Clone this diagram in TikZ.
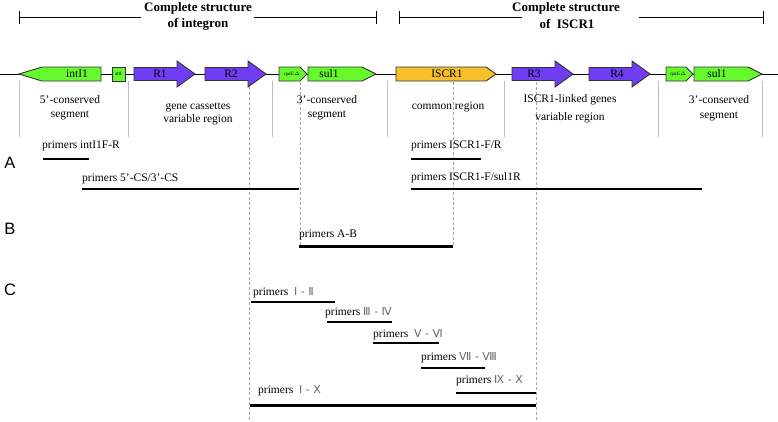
\documentclass[tikz,border=0pt]{standalone}
\usepackage{fontspec}
\setmainfont{Liberation Serif}
\newfontfamily\labfont{Liberation Sans}
\newfontfamily\romfont{DejaVu Sans}
\definecolor{genegreen}{RGB}{102,250,45}
\definecolor{genepurple}{RGB}{112,62,242}
\definecolor{geneorange}{RGB}{245,192,42}
\definecolor{sepgray}{RGB}{190,190,190}
\newcommand{\rn}[1]{{\romfont\color{black!60}\fontsize{11}{12}\selectfont #1}}
\begin{document}
\begin{tikzpicture}[x=1pt,y=-1pt,
  gene/.style={draw=black!80, line width=0.9pt, line join=miter},
  grn/.style={gene, fill=genegreen},
  prp/.style={gene, fill=genepurple},
  org/.style={gene, fill=geneorange},
  glab/.style={font=\fontsize{11.5}{12}\selectfont, inner sep=0pt},
  tiny/.style={font=\fontsize{5}{5}\selectfont, inner sep=0pt},
  sep/.style={draw=sepgray, line width=0.7pt},
  dsep/.style={draw=black!35, dash pattern=on 3pt off 2pt, line width=0.6pt},
  bracket/.style={line width=1pt},
  title/.style={font=\bfseries\fontsize{13}{14}\selectfont, inner sep=0pt},
  rlab/.style={font=\fontsize{11.5}{12}\selectfont, inner sep=0pt},
  ptext/.style={anchor=west, font=\fontsize{11.5}{12}\selectfont, inner sep=0pt},
  thinp/.style={line width=1.6pt},
  midp/.style={line width=2pt},
  thickp/.style={line width=3pt},
  letter/.style={font=\labfont\fontsize{16.5}{17}\selectfont, inner sep=0pt}
]
\useasboundingbox (0,0) rectangle (778,421);

% ---------- titles and brackets ----------
\node[title] (t1a) at (198,8) {Complete structure};
\node[title] (t1b) at (198,24) {of integron};
\coordinate (b1l) at (19,17); \coordinate (b1r) at (376,17);
\coordinate (b1g1) at (141,17); \coordinate (b1g2) at (254,17);
\draw[bracket] (b1l) -- (b1g1) (b1g2) -- (b1r);
\draw[bracket] (19,11) -- (19,24) (376,11) -- (376,24);

\node[title] (t2a) at (566,8) {Complete structure};
\node[title] (t2b) at (567,24) {of\ \ ISCR1};
\coordinate (b2l) at (399,17); \coordinate (b2r) at (763,17);
\coordinate (b2g1) at (522,17); \coordinate (b2g2) at (639,17);
\draw[bracket] (b2l) -- (b2g1) (b2g2) -- (b2r);
\draw[bracket] (399,11) -- (399,24) (763,11) -- (763,24);

% ---------- separators ----------
\foreach \x in {19,128,272,387,504,658,762}
  \draw[sep] (\x,81) -- (\x,137);
\draw[dsep] (249,82) -- (249,421);
\draw[dsep] (300,82) -- (300,246);
\draw[dsep] (453,82) -- (453,246);
\draw[dsep] (536,82) -- (536,421);

% ---------- backbone ----------
\coordinate (bbl) at (0,74); \coordinate (bbr) at (778,74);
\draw[line width=0.9pt] (bbl) -- (bbr);

% ---------- genes ----------
\draw[grn] (19,74) -- (42,67) -- (101,67) -- (101,81) -- (42,81) -- cycle;
\node[glab] (intI) at (77,74) {intI1};
\draw[grn] (112,67) rectangle (125,81);
\node[tiny] (attI) at (118.5,74) {attI};
\draw[prp] (134,67.5) -- (177,67.5) -- (177,61) -- (195,74) -- (177,87) -- (177,80.5) -- (134,80.5) -- cycle;
\node[glab] (R1) at (160,74) {R1};
\draw[prp] (205,67.5) -- (248,67.5) -- (248,61) -- (266,74) -- (248,87) -- (248,80.5) -- (205,80.5) -- cycle;
\node[glab] (R2) at (231,74) {R2};
\draw[grn] (279,67) -- (300,67) -- (307,74) -- (300,81) -- (279,81) -- cycle;
\node[tiny] (qac1) at (292,74) {qacE$\Delta$};
\draw[grn] (308,67) -- (362,67) -- (376,74) -- (362,81) -- (308,81) -- cycle;
\node[glab] (sul1a) at (329,74) {sul1};

\draw[org] (396,67) -- (486,67) -- (496,74) -- (486,81) -- (396,81) -- cycle;
\node[glab] (iscr) at (447,74) {ISCR1};
\draw[prp] (512,67.5) -- (555,67.5) -- (555,61) -- (573,74) -- (555,87) -- (555,80.5) -- (512,80.5) -- cycle;
\node[glab] (R3) at (534,74) {R3};
\draw[prp] (589,67.5) -- (632,67.5) -- (632,61) -- (650,74) -- (632,87) -- (632,80.5) -- (589,80.5) -- cycle;
\node[glab] (R4) at (617,74) {R4};
\draw[grn] (666,67) -- (686,67) -- (693,74) -- (686,81) -- (666,81) -- cycle;
\node[tiny] (qac2) at (678,74) {qacE$\Delta$};
\draw[grn] (694,67) -- (748,67) -- (762,74) -- (748,81) -- (694,81) -- cycle;
\node[glab] (sul1b) at (717,74) {sul1};

% ---------- region labels ----------
\node[rlab] (r1a) at (70,100) {5’-conserved};
\node[rlab] (r1b) at (70,115) {segment};
\node[rlab] (r2a) at (198,107) {gene cassettes};
\node[rlab] (r2b) at (198,120) {variable region};
\node[rlab] (r3a) at (327,100) {3’-conserved};
\node[rlab] (r3b) at (327,115) {segment};
\node[rlab] (r4) at (448,107) {common region};
\node[rlab] (r5a) at (570,100) {ISCR1-linked genes};
\node[rlab] (r5b) at (570,118) {variable region};
\node[rlab] (r6a) at (719,100) {3’-conserved};
\node[rlab] (r6b) at (719,116) {segment};

% ---------- letters ----------
\node[letter] (A) at (10,163) {A};
\node[letter] (B) at (10,229) {B};
\node[letter] (C) at (10,290) {C};

% ---------- section A ----------
\node[ptext] (pa1) at (42,146) {primers intI1F-R};
\coordinate (pa1a) at (43,159); \coordinate (pa1b) at (89,159);
\draw[midp] (pa1a) -- (pa1b);
\node[ptext] (pa2) at (82,179) {primers 5’-CS/3’-CS};
\coordinate (pa2a) at (82,189); \coordinate (pa2b) at (299,189);
\draw[midp] (pa2a) -- (pa2b);
\node[ptext] (pa3) at (411,146) {primers ISCR1-F/R};
\coordinate (pa3a) at (411,159); \coordinate (pa3b) at (481,159);
\draw[midp] (pa3a) -- (pa3b);
\node[ptext] (pa4) at (411,178) {primers ISCR1-F/sul1R};
\coordinate (pa4a) at (411,189); \coordinate (pa4b) at (702,189);
\draw[midp] (pa4a) -- (pa4b);

% ---------- section B ----------
\node[ptext] (pb) at (299,235) {primers A-B};
\coordinate (pba) at (299,246); \coordinate (pbb) at (453,246);
\draw[thickp] (pba) -- (pbb);

% ---------- section C ----------
\node[ptext] (pc1) at (253,293) {primers\ \ \rn{Ⅰ - Ⅱ}};
\coordinate (pc1a) at (251,302); \coordinate (pc1b) at (335,302);
\draw[thinp] (pc1a) -- (pc1b);
\node[ptext] (pc2) at (325,313) {primers\ \rn{Ⅲ - Ⅳ}};
\coordinate (pc2a) at (327,322); \coordinate (pc2b) at (392,322);
\draw[thinp] (pc2a) -- (pc2b);
\node[ptext] (pc3) at (373,335) {primers\ \ \rn{Ⅴ - Ⅵ}};
\coordinate (pc3a) at (373,343); \coordinate (pc3b) at (439,343);
\draw[thinp] (pc3a) -- (pc3b);
\node[ptext] (pc4) at (421,358) {primers\ \rn{Ⅶ - Ⅷ}};
\coordinate (pc4a) at (421,368); \coordinate (pc4b) at (485,368);
\draw[thinp] (pc4a) -- (pc4b);
\node[ptext] (pc5) at (456,381) {primers\ \rn{Ⅸ - Ⅹ}};
\coordinate (pc5a) at (456,393); \coordinate (pc5b) at (536,393);
\draw[thinp] (pc5a) -- (pc5b);
\node[ptext] (pc6) at (258,391) {primers\ \ \rn{Ⅰ - Ⅹ}};
\coordinate (pc6a) at (250,405); \coordinate (pc6b) at (536,405);
\draw[thickp] (pc6a) -- (pc6b);
\end{tikzpicture}
\end{document}
